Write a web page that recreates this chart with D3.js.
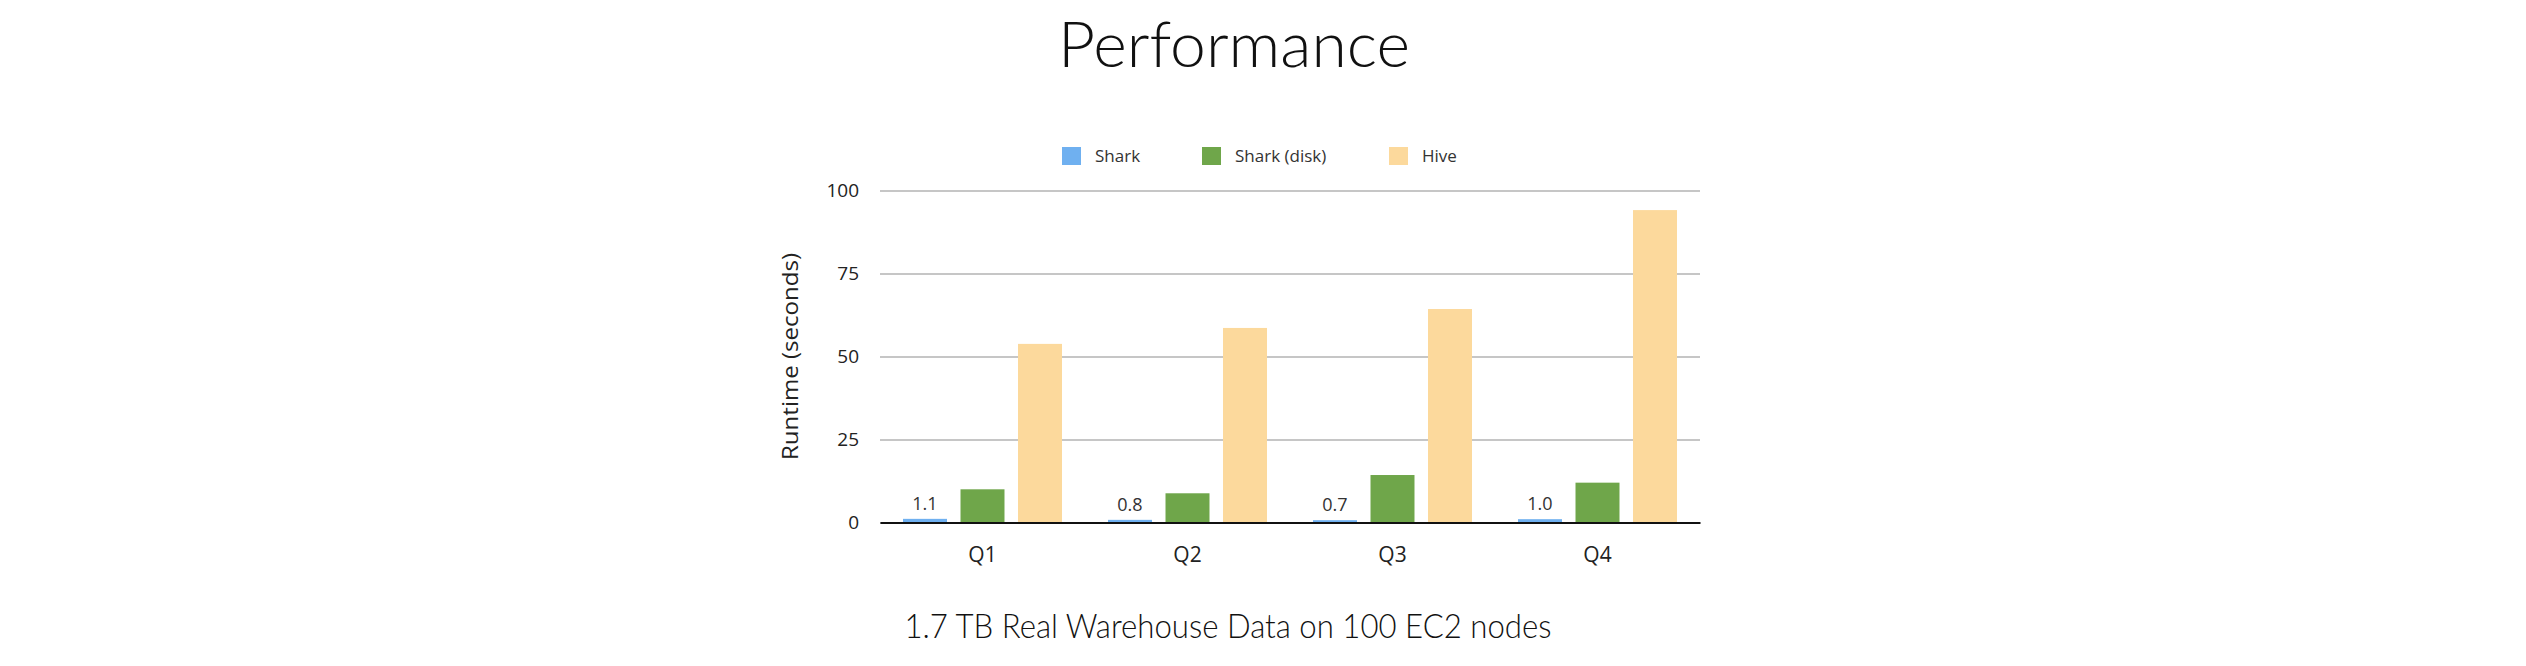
<!DOCTYPE html>
<html><head><meta charset="utf-8">
<script src="https://cdn.jsdelivr.net/npm/d3@7"></script>
<style>
html,body{margin:0;padding:0;background:#fff;}
svg{display:block;}
</style></head>
<body>
<script>
const categories = ["Q1","Q2","Q3","Q4"];
const seriesNames = ["Shark","Shark (disk)","Hive"];
const sharkValues = [1.1, 0.8, 0.7, 1.0];
const sharkDiskValues = [10.0, 8.8, 14.3, 12.0];
const hiveValues = [53.8, 58.6, 64.3, 94.1];
const sharkLabels = ["1.1","0.8","0.7","1.0"];
const yTicks = [0, 25, 50, 75, 100];
const colors = ["#6fb0f0", "#6fa64a", "#fcd99c"];

const W = 2526, H = 666;
const svg = d3.select("body").append("svg").attr("width", W).attr("height", H);

const x0 = d3.scaleBand().domain(categories).range([880, 1700]).paddingInner(0).paddingOuter(0);
const x1 = d3.scaleBand().domain(seriesNames).range([23, x0.bandwidth() - 23]).paddingInner(0.235).paddingOuter(0);
const y = d3.scaleLinear().domain([0, 100]).range([522.5, 190.5]);
const color = d3.scaleOrdinal().domain(seriesNames).range(colors);

// Title
svg.append("text").attr("x", 1234).attr("y", 67).attr("text-anchor", "middle")
  .attr("font-family", "Lato, 'Open Sans', sans-serif").attr("font-weight", 300)
  .attr("font-size", 64).attr("fill", "#111")
  .attr("textLength", 352).attr("lengthAdjust", "spacingAndGlyphs").text("Performance");

// Gridlines
const yAxis = d3.axisLeft(y).tickValues(yTicks).tickSize(-(1700 - 880)).tickPadding(21).tickFormat(d3.format("d"));
const gy = svg.append("g").attr("transform", "translate(880,0)").call(yAxis);
gy.select(".domain").remove();
gy.selectAll(".tick line").attr("stroke", "#b3b3b3").attr("stroke-width", 1.5);
gy.selectAll(".tick text").attr("font-family", "'Open Sans', sans-serif").attr("font-size", 19).attr("fill", "#222");

// Y axis title
svg.append("text").attr("transform", "translate(798,356.5) rotate(-90)").attr("text-anchor", "middle")
  .attr("font-family", "'Open Sans', sans-serif").attr("font-size", 22).attr("fill", "#222")
  .attr("textLength", 207).attr("lengthAdjust", "spacingAndGlyphs").text("Runtime (seconds)");

// Bars
const data = categories.map((c, i) => ({cat: c, vals: [sharkValues[i], sharkDiskValues[i], hiveValues[i]]}));
const groups = svg.append("g").selectAll("g").data(data).join("g")
  .attr("transform", d => `translate(${x0(d.cat)},0)`);
groups.selectAll("rect").data(d => d.vals.map((v, j) => ({s: seriesNames[j], v})))
  .join("rect")
  .attr("x", d => x1(d.s)).attr("width", x1.bandwidth())
  .attr("y", d => y(d.v)).attr("height", d => y(0) - y(d.v))
  .attr("fill", d => color(d.s));

// Value labels for Shark
svg.append("g").selectAll("text").data(categories).join("text")
  .attr("x", (c) => x0(c) + x1("Shark") + x1.bandwidth() / 2)
  .attr("y", (c, i) => y(sharkValues[i]) - 9)
  .attr("text-anchor", "middle")
  .attr("font-family", "'Open Sans', sans-serif").attr("font-size", 18).attr("fill", "#333")
  .text((c, i) => sharkLabels[i]);

// X axis
const xAxis = d3.axisBottom(x0).tickSize(0).tickPadding(25);
const gx = svg.append("g").attr("transform", `translate(0,${y(0)})`).call(xAxis);
gx.select(".domain").attr("stroke", "#111").attr("stroke-width", 2);
gx.selectAll(".tick text").attr("font-family", "'Open Sans', sans-serif").attr("font-size", 21).attr("fill", "#222");

// Legend
const legendX = [1062, 1202, 1389];
const lg = svg.append("g").selectAll("g").data(seriesNames).join("g")
  .attr("transform", (d, i) => `translate(${legendX[i]},147)`);
lg.append("rect").attr("width", 19).attr("height", 18).attr("fill", d => color(d));
lg.append("text").attr("x", 33).attr("y", 15).attr("font-family", "'Open Sans', sans-serif")
  .attr("font-size", 17).attr("fill", "#333").text(d => d);

// Subtitle
svg.append("text").attr("x", 1228).attr("y", 638).attr("text-anchor", "middle")
  .attr("font-family", "Lato, 'Open Sans', sans-serif").attr("font-weight", 300)
  .attr("font-size", 33).attr("fill", "#111")
  .attr("textLength", 647).attr("lengthAdjust", "spacingAndGlyphs")
  .text("1.7 TB Real Warehouse Data on 100 EC2 nodes");
</script>
</body></html>
